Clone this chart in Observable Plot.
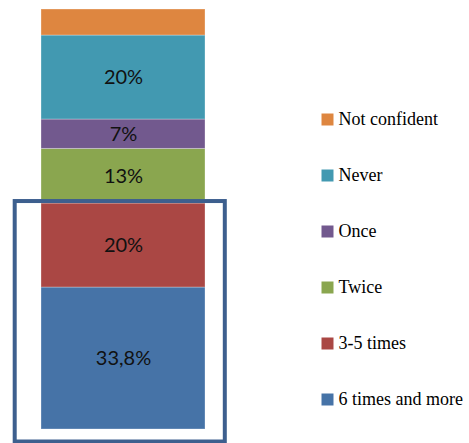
<!DOCTYPE html>
<html>
<head>
<meta charset="utf-8">
<script src="https://cdn.jsdelivr.net/npm/d3@7"></script>
<script src="https://cdn.jsdelivr.net/npm/@observablehq/plot@0.6"></script>
<style>
  html, body { margin: 0; padding: 0; background: #fff; }
  #wrap { position: relative; width: 469px; height: 443px; overflow: hidden; }
  #chart { position: absolute; left: 0; top: 0; }
  #legend { position: absolute; left: 315px; top: 90px; }
</style>
</head>
<body>
<div id="wrap">
  <div id="chart"></div>
  <div id="legend"></div>
</div>
<script>
// Answer categories, stacked from the bottom up
const categories = ["6 times and more", "3-5 times", "Twice", "Once", "Never", "Not confident"];
// Share of respondents (%)
const values = [33.8, 20, 13, 7, 20, 6.2];
// Segment colours
const colors = ["#4673A7", "#AA4744", "#8AA64F", "#72598E", "#4299B1", "#DE8640"];
// Which segments carry a value label
const labelled = [true, true, true, true, true, false];
// Legend lists categories top-down
const legendOrder = ["Not confident", "Never", "Once", "Twice", "3-5 times", "6 times and more"];

const fmt = v => String(v).replace(".", ",") + "%";
const data = categories.map((c, i) => ({
  group: "",
  category: c,
  value: values[i],
  label: labelled[i] ? fmt(values[i]) : ""
}));

// Highlighted frequent-use share: top of the "3-5 times" segment
const highlightTop = values[0] + values[1];

const chart = Plot.plot({
  width: 469,
  height: 443,
  margin: 0,
  x: { type: "band", domain: [""], range: [41.3, 205.7], padding: 0, axis: null },
  y: { domain: [0, 100], range: [429, 9], axis: null },
  color: { domain: categories, range: colors },
  marks: [
    Plot.barY(data, Plot.stackY({
      x: "group", y: "value", fill: "category", order: null,
      stroke: "#ffffff", strokeOpacity: 0.3, strokeWidth: 1
    })),
    Plot.text(data, Plot.stackY({
      x: "group", y: "value", text: "label", order: null,
      fontFamily: "Lato, sans-serif", fontSize: 20, fill: "#111"
    })),
    Plot.barY([{ group: "", y1: 0, y2: highlightTop }], {
      x: "group", y1: "y1", y2: "y2",
      fill: "none", stroke: "#3D5F8E", strokeWidth: 4,
      insetLeft: -26.3, insetRight: -19.8, insetTop: -2, insetBottom: -12.5
    })
  ]
});
document.getElementById("chart").appendChild(chart);

// Vertical swatch legend, one row per category
const legend = Plot.plot({
  width: 154,
  height: 340,
  margin: 0,
  y: { type: "point", domain: legendOrder, range: [28, 310], padding: 0, axis: null },
  color: { domain: categories, range: colors },
  marks: [
    Plot.dot(legendOrder, {
      y: d => d, fill: d => d, symbol: "square", r: 6.77,
      frameAnchor: "left", dx: 12
    }),
    Plot.text(legendOrder, {
      y: d => d, text: d => d, frameAnchor: "left", dx: 23, textAnchor: "start",
      fontFamily: "'Liberation Serif', 'Times New Roman', serif", fontSize: 18, fill: "#000"
    })
  ]
});
document.getElementById("legend").appendChild(legend);
</script>
</body>
</html>
